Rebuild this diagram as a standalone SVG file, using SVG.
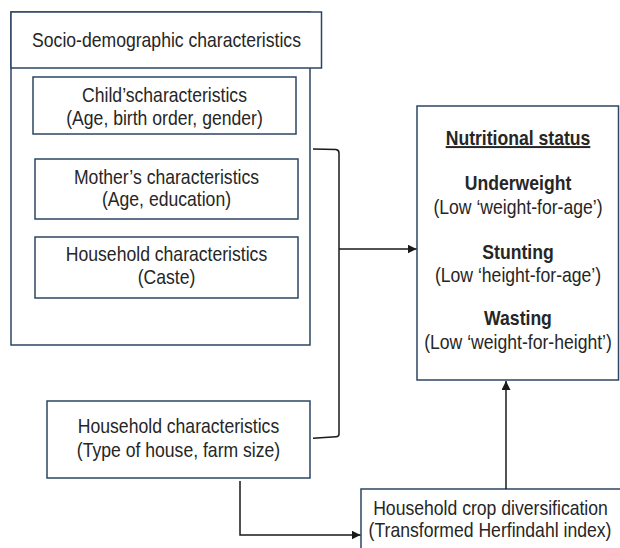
<svg xmlns="http://www.w3.org/2000/svg" width="620" height="548" viewBox="0 0 620 548">
<style>
  .box { fill: #ffffff; stroke: #2c4563; stroke-width: 1.5; }
  .t { font-family: "Liberation Sans", Arial, sans-serif; font-size: 20px; fill: #262626; text-anchor: middle; }
  .b { font-weight: bold; }
  .u { text-decoration: underline; }
  .c { fill: none; stroke: #1a1a1a; stroke-width: 1.5; }
</style>
<defs>
  <marker id="ah" viewBox="0 0 10 10" refX="10" refY="5" markerWidth="6" markerHeight="6" markerUnits="userSpaceOnUse" orient="auto">
    <path d="M0,0 L10,5 L0,10 z" fill="#1a1a1a"/>
  </marker>
  <marker id="ah2" viewBox="0 0 10 10" refX="10" refY="5" markerWidth="9" markerHeight="9" markerUnits="userSpaceOnUse" orient="auto">
    <path d="M0,0 L10,5 L0,10 z" fill="#1a1a1a"/>
  </marker>
</defs>
<rect width="620" height="548" fill="#ffffff"/>

<g id="socio-demographic">
  <rect class="box" x="11" y="12" width="299" height="333"/>
  <rect class="box" x="11" y="12" width="310.5" height="56"/>
  <text class="t" transform="translate(166.5 47) scale(0.88 1)">Socio-demographic characteristics</text>
</g>

<g id="child">
  <rect class="box" x="33" y="77" width="263" height="57"/>
  <text class="t" transform="translate(164.5 101.5) scale(0.88 1)">Child’scharacteristics</text>
  <text class="t" transform="translate(164.5 124.5) scale(0.88 1)">(Age, birth order, gender)</text>
</g>

<g id="mother">
  <rect class="box" x="35" y="159" width="263" height="60"/>
  <text class="t" transform="translate(166.5 183.5) scale(0.88 1)">Mother’s characteristics</text>
  <text class="t" transform="translate(166.5 206) scale(0.88 1)">(Age, education)</text>
</g>

<g id="household-caste">
  <rect class="box" x="35" y="237" width="263" height="61"/>
  <text class="t" transform="translate(166.5 260.5) scale(0.88 1)">Household characteristics</text>
  <text class="t" transform="translate(166.5 283.5) scale(0.88 1)">(Caste)</text>
</g>

<g id="nutritional-status">
  <rect class="box" x="417" y="106" width="201.5" height="274"/>
  <text class="t b u" transform="translate(518 145) scale(0.88 1)">Nutritional status</text>
  <text class="t b" transform="translate(518 190) scale(0.88 1)">Underweight</text>
  <text class="t" transform="translate(518 213.5) scale(0.88 1)">(Low ‘weight-for-age’)</text>
  <text class="t b" transform="translate(518 258.5) scale(0.88 1)">Stunting</text>
  <text class="t" transform="translate(518 281.5) scale(0.88 1)">(Low ‘height-for-age’)</text>
  <text class="t b" transform="translate(518 325) scale(0.88 1)">Wasting</text>
  <text class="t" transform="translate(518 348.5) scale(0.88 1)">(Low ‘weight-for-height’)</text>
</g>

<g id="household-type">
  <rect class="box" x="47" y="401" width="263" height="77"/>
  <text class="t" transform="translate(178.5 433) scale(0.88 1)">Household characteristics</text>
  <text class="t" transform="translate(178.5 456.5) scale(0.88 1)">(Type of house, farm size)</text>
</g>

<g id="crop-diversification">
  <rect class="box" x="361" y="489" width="262" height="70"/>
  <text class="t" transform="translate(490.5 515) scale(0.88 1)">Household crop diversification</text>
  <text class="t" transform="translate(490 537) scale(0.88 1)">(Transformed Herfindahl index)</text>
</g>

<g id="connectors">
  <path class="c" d="M313,149 L336,149.5 Q339,150 339,153 L339,434 Q339,436.5 336,436.7 L313,438.3"/>
  <path class="c" d="M339,249 L416.5,249" marker-end="url(#ah2)"/>
  <path class="c" d="M506,489 L506,381" marker-end="url(#ah2)"/>
  <path class="c" d="M240,481 L240,535 L360.5,535" marker-end="url(#ah2)"/>
</g>
</svg>
